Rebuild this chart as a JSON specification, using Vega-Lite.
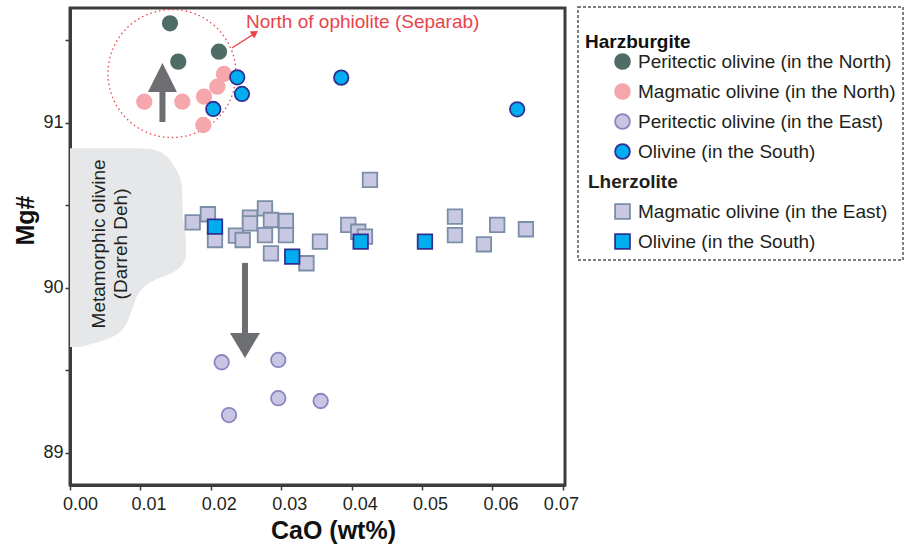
{
  "$schema": "https://vega.github.io/schema/vega-lite/v6.json",
  "autosize": {"type": "none"},
  "padding": {"left": 70, "top": 8, "right": 343, "bottom": 59},
  "width": 495,
  "height": 477,
  "background": "white",
  "datasets": {
    "pts": [
      {"cls": "Magmatic olivine (in the North)", "cao": 0.01055, "mg": 91.127},
      {"cls": "Magmatic olivine (in the North)", "cao": 0.01595, "mg": 91.127},
      {"cls": "Magmatic olivine (in the North)", "cao": 0.01903, "mg": 91.158},
      {"cls": "Magmatic olivine (in the North)", "cao": 0.02092, "mg": 91.218},
      {"cls": "Magmatic olivine (in the North)", "cao": 0.02187, "mg": 91.295},
      {"cls": "Magmatic olivine (in the North)", "cao": 0.01893, "mg": 90.986},
      {"cls": "Peritectic olivine (in the North)", "cao": 0.0142, "mg": 91.602},
      {"cls": "Peritectic olivine (in the North)", "cao": 0.01538, "mg": 91.37},
      {"cls": "Peritectic olivine (in the North)", "cao": 0.02116, "mg": 91.43},
      {"cls": "Olivine (in the South)", "cao": 0.02035, "mg": 91.083},
      {"cls": "Olivine (in the South)", "cao": 0.02375, "mg": 91.275},
      {"cls": "Olivine (in the South)", "cao": 0.02442, "mg": 91.174},
      {"cls": "Olivine (in the South)", "cao": 0.03852, "mg": 91.273},
      {"cls": "Olivine (in the South)", "cao": 0.06351, "mg": 91.081},
      {"cls": "Peritectic olivine (in the East)", "cao": 0.02154, "mg": 89.548},
      {"cls": "Peritectic olivine (in the East)", "cao": 0.02958, "mg": 89.562},
      {"cls": "Peritectic olivine (in the East)", "cao": 0.02958, "mg": 89.33},
      {"cls": "Peritectic olivine (in the East)", "cao": 0.02258, "mg": 89.228},
      {"cls": "Peritectic olivine (in the East)", "cao": 0.0356, "mg": 89.313},
      {"cls": "Magmatic olivine (in the East)", "cao": 0.01742, "mg": 90.396},
      {"cls": "Magmatic olivine (in the East)", "cao": 0.01959, "mg": 90.445},
      {"cls": "Magmatic olivine (in the East)", "cao": 0.02059, "mg": 90.289},
      {"cls": "Magmatic olivine (in the East)", "cao": 0.02357, "mg": 90.315},
      {"cls": "Magmatic olivine (in the East)", "cao": 0.02452, "mg": 90.289},
      {"cls": "Magmatic olivine (in the East)", "cao": 0.02556, "mg": 90.424},
      {"cls": "Magmatic olivine (in the East)", "cao": 0.02556, "mg": 90.39},
      {"cls": "Magmatic olivine (in the East)", "cao": 0.02769, "mg": 90.481},
      {"cls": "Magmatic olivine (in the East)", "cao": 0.02769, "mg": 90.319},
      {"cls": "Magmatic olivine (in the East)", "cao": 0.02854, "mg": 90.41},
      {"cls": "Magmatic olivine (in the East)", "cao": 0.03067, "mg": 90.404},
      {"cls": "Magmatic olivine (in the East)", "cao": 0.03067, "mg": 90.319},
      {"cls": "Magmatic olivine (in the East)", "cao": 0.02854, "mg": 90.208},
      {"cls": "Magmatic olivine (in the East)", "cao": 0.03358, "mg": 90.148},
      {"cls": "Magmatic olivine (in the East)", "cao": 0.0355, "mg": 90.279},
      {"cls": "Magmatic olivine (in the East)", "cao": 0.03952, "mg": 90.38},
      {"cls": "Magmatic olivine (in the East)", "cao": 0.04094, "mg": 90.339},
      {"cls": "Magmatic olivine (in the East)", "cao": 0.04189, "mg": 90.309},
      {"cls": "Magmatic olivine (in the East)", "cao": 0.0426, "mg": 90.653},
      {"cls": "Magmatic olivine (in the East)", "cao": 0.05467, "mg": 90.43},
      {"cls": "Magmatic olivine (in the East)", "cao": 0.05467, "mg": 90.319},
      {"cls": "Magmatic olivine (in the East)", "cao": 0.05878, "mg": 90.263},
      {"cls": "Magmatic olivine (in the East)", "cao": 0.06067, "mg": 90.38},
      {"cls": "Magmatic olivine (in the East)", "cao": 0.06475, "mg": 90.354},
      {"cls": "Olivine (in the South), lherzolite", "cao": 0.02059, "mg": 90.37},
      {"cls": "Olivine (in the South), lherzolite", "cao": 0.03156, "mg": 90.188},
      {"cls": "Olivine (in the South), lherzolite", "cao": 0.04128, "mg": 90.279},
      {"cls": "Olivine (in the South), lherzolite", "cao": 0.05041, "mg": 90.279}
    ],
    "blob": [
      {"cao": 0.00994, "mg": 90.845},
      {"cao": 0.01207, "mg": 90.835},
      {"cao": 0.01349, "mg": 90.804},
      {"cao": 0.01448, "mg": 90.756},
      {"cao": 0.01548, "mg": 90.683},
      {"cao": 0.0159, "mg": 90.61},
      {"cao": 0.01604, "mg": 90.428},
      {"cao": 0.01647, "mg": 90.29},
      {"cao": 0.01647, "mg": 90.198},
      {"cao": 0.0159, "mg": 90.138},
      {"cao": 0.01448, "mg": 90.089},
      {"cao": 0.01207, "mg": 90.047},
      {"cao": 0.01008, "mg": 89.986},
      {"cao": 0.0088, "mg": 89.865},
      {"cao": 0.00738, "mg": 89.744},
      {"cao": 0.00568, "mg": 89.695},
      {"cao": 0.00355, "mg": 89.665},
      {"cao": 0.00142, "mg": 89.64}
    ],
    "notes": [
      {"kind": "blobtext", "cao": 0.00416, "mg": 90.265, "label": "Metamorphic olivine\n(Darreh Deh)"},
      {"kind": "circle", "cao": 0.01448, "mg": 91.298},
      {"kind": "redline", "cao": 0.023, "mg": 91.453, "cao2": 0.02613, "mg2": 91.538},
      {"kind": "redhead", "cao": 0.02627, "mg": 91.544},
      {"kind": "redtext", "cao": 0.02499, "mg": 91.61, "label": "North of ophiolite (Separab)"},
      {"kind": "shaft", "cao": 0.01313, "mg": 91.004, "mg2": 91.2},
      {"kind": "shaft", "cao": 0.02485, "mg": 90.15, "mg2": 89.72},
      {"kind": "uphead", "cao": 0.01313, "mg": 91.274},
      {"kind": "downhead", "cao": 0.02485, "mg": 89.65}
    ]
  },
  "encoding": {
    "x": {
      "field": "cao", "type": "quantitative",
      "scale": {"domain": [0, 0.0703], "nice": false, "zero": false},
      "axis": {
        "title": "CaO (wt%)",
        "values": [0, 0.01, 0.02, 0.03, 0.04, 0.05, 0.06, 0.07],
        "format": ".2f",
        "labelFlush": false,
        "labelOffset": {"expr": "datum.value > 0.065 ? -2 : (datum.value < 0.005 ? 10 : 8)"},
        "titleX": 263, "titleY": 53, "titleBaseline": "alphabetic", "titleAnchor": null,
        "labelPadding": 5
      }
    },
    "y": {
      "field": "mg", "type": "quantitative",
      "scale": {"domain": [88.804, 91.695], "nice": false, "zero": false},
      "axis": {
        "title": "Mg#",
        "values": [89, 89.5, 90, 90.5, 91, 91.5],
        "labelFlush": false,
        "labelExpr": "datum.value % 1 === 0 ? format(datum.value, 'd') : ''",
        "titleX": -37, "titleY": 212, "titleBaseline": "alphabetic", "titleAngle": 270,
        "labelPadding": 2
      }
    }
  },
  "layer": [
    {
      "data": {"name": "blob"},
      "mark": {"type": "area", "orient": "horizontal", "interpolate": "monotone", "color": "#e6e7e8"},
      "encoding": {"x2": {"datum": 0}}
    },
    {
      "data": {"name": "notes"},
      "transform": [{"filter": "datum.kind === 'blobtext'"}],
      "mark": {"type": "text", "angle": 270, "fontSize": 19, "lineBreak": "\n", "lineHeight": 22, "align": "center", "baseline": "middle", "color": "#231f20"},
      "encoding": {"text": {"field": "label"}}
    },
    {
      "data": {"name": "notes"},
      "transform": [{"filter": "datum.kind === 'circle'"}],
      "mark": {"type": "point", "shape": "circle", "size": 16384, "filled": false, "stroke": "#e8434b", "strokeWidth": 1.3, "strokeDash": [1.5, 3], "opacity": 1},
      "encoding": {}
    },
    {
      "data": {"name": "notes"},
      "transform": [{"filter": "datum.kind === 'redline'"}],
      "mark": {"type": "rule", "color": "#e8434b", "strokeWidth": 1.3},
      "encoding": {"x2": {"field": "cao2"}, "y2": {"field": "mg2"}}
    },
    {
      "data": {"name": "notes"},
      "transform": [{"filter": "datum.kind === 'redhead'"}],
      "mark": {"type": "point", "shape": "triangle-up", "size": 70, "angle": 57, "filled": true, "color": "#e8434b", "opacity": 1},
      "encoding": {}
    },
    {
      "data": {"name": "notes"},
      "transform": [{"filter": "datum.kind === 'redtext'"}],
      "mark": {"type": "text", "fontSize": 19, "align": "left", "baseline": "middle", "color": "#e8434b"},
      "encoding": {"text": {"field": "label"}}
    },
    {
      "data": {"name": "notes"},
      "transform": [{"filter": "datum.kind === 'shaft'"}],
      "mark": {"type": "rule", "color": "#6d6e71", "strokeWidth": 6},
      "encoding": {"y2": {"field": "mg2"}}
    },
    {
      "data": {"name": "notes"},
      "transform": [{"filter": "datum.kind === 'uphead'"}],
      "mark": {"type": "point", "shape": "M0,-1L1,1L-1,1Z", "size": 841, "filled": true, "color": "#6d6e71", "opacity": 1},
      "encoding": {}
    },
    {
      "data": {"name": "notes"},
      "transform": [{"filter": "datum.kind === 'downhead'"}],
      "mark": {"type": "point", "shape": "M-1,-0.833L1,-0.833L0,0.833Z", "size": 900, "filled": true, "color": "#6d6e71", "opacity": 1},
      "encoding": {}
    },
    {
      "data": {"name": "pts"},
      "mark": {"type": "point", "filled": true, "opacity": 1, "size": 210, "strokeWidth": 1.8},
      "encoding": {
        "fill": {
          "field": "cls", "type": "nominal",
          "scale": {
            "domain": ["Peritectic olivine (in the North)", "Magmatic olivine (in the North)", "Peritectic olivine (in the East)", "Olivine (in the South)", "Lherzolite", "Magmatic olivine (in the East)", "Olivine (in the South), lherzolite"],
            "range": ["#4f6d67", "#f5a7ac", "#c9c6e4", "#00aeef", "transparent", "#c9c8e3", "#00aeef"]
          },
          "legend": {
            "title": ["", "Harzburgite"],
            "labelExpr": "replace(datum.label, ', lherzolite', '')",
            "labelFontWeight": {"expr": "datum.value === 'Lherzolite' ? 'bold' : 'normal'"},
            "labelOffset": {"expr": "datum.value === 'Lherzolite' ? -44 : 6"}
          }
        },
        "stroke": {
          "field": "cls", "type": "nominal",
          "scale": {
            "domain": ["Peritectic olivine (in the North)", "Magmatic olivine (in the North)", "Peritectic olivine (in the East)", "Olivine (in the South)", "Lherzolite", "Magmatic olivine (in the East)", "Olivine (in the South), lherzolite"],
            "range": ["#4f6d67", "#f5a7ac", "#8a85c0", "#2e3192", "transparent", "#7b8da7", "#2e3192"]
          },
          "legend": {
            "title": ["", "Harzburgite"],
            "labelExpr": "replace(datum.label, ', lherzolite', '')",
            "labelFontWeight": {"expr": "datum.value === 'Lherzolite' ? 'bold' : 'normal'"},
            "labelOffset": {"expr": "datum.value === 'Lherzolite' ? -44 : 6"}
          }
        },
        "shape": {
          "field": "cls", "type": "nominal",
          "scale": {
            "domain": ["Peritectic olivine (in the North)", "Magmatic olivine (in the North)", "Peritectic olivine (in the East)", "Olivine (in the South)", "Lherzolite", "Magmatic olivine (in the East)", "Olivine (in the South), lherzolite"],
            "range": ["circle", "circle", "circle", "circle", "circle", "square", "square"]
          },
          "legend": {
            "title": ["", "Harzburgite"],
            "labelExpr": "replace(datum.label, ', lherzolite', '')",
            "labelFontWeight": {"expr": "datum.value === 'Lherzolite' ? 'bold' : 'normal'"},
            "labelOffset": {"expr": "datum.value === 'Lherzolite' ? -44 : 6"}
          }
        }
      }
    }
  ],
  "config": {
    "font": "Liberation Sans",
    "view": {"stroke": "#3d3d3d", "strokeWidth": 3},
    "axis": {
      "grid": false,
      "domainColor": "#3d3d3d", "domainWidth": 3,
      "tickColor": "#3d3d3d", "tickWidth": 1.5, "tickSize": 5,
      "labelFontSize": 18, "labelColor": "#231f20",
      "titleFontSize": 25, "titleFontWeight": "bold", "titleColor": "#111111"
    },
    "legend": {
      "orient": "none", "legendX": 508, "legendY": -1,
      "padding": 7, "symbolOffset": 28, "rowPadding": 7,
      "labelFontSize": 19, "labelColor": "#231f20", "labelLimit": 400,
      "titleFontSize": 19, "titleFontWeight": "bold", "titleColor": "#111111", "titleLineHeight": 19, "titlePadding": 0,
      "symbolSize": 220, "symbolStrokeWidth": 1.8,
      "strokeColor": "#555555", "strokeDash": [3, 2], "strokeWidth": 1.5
    }
  }
}
